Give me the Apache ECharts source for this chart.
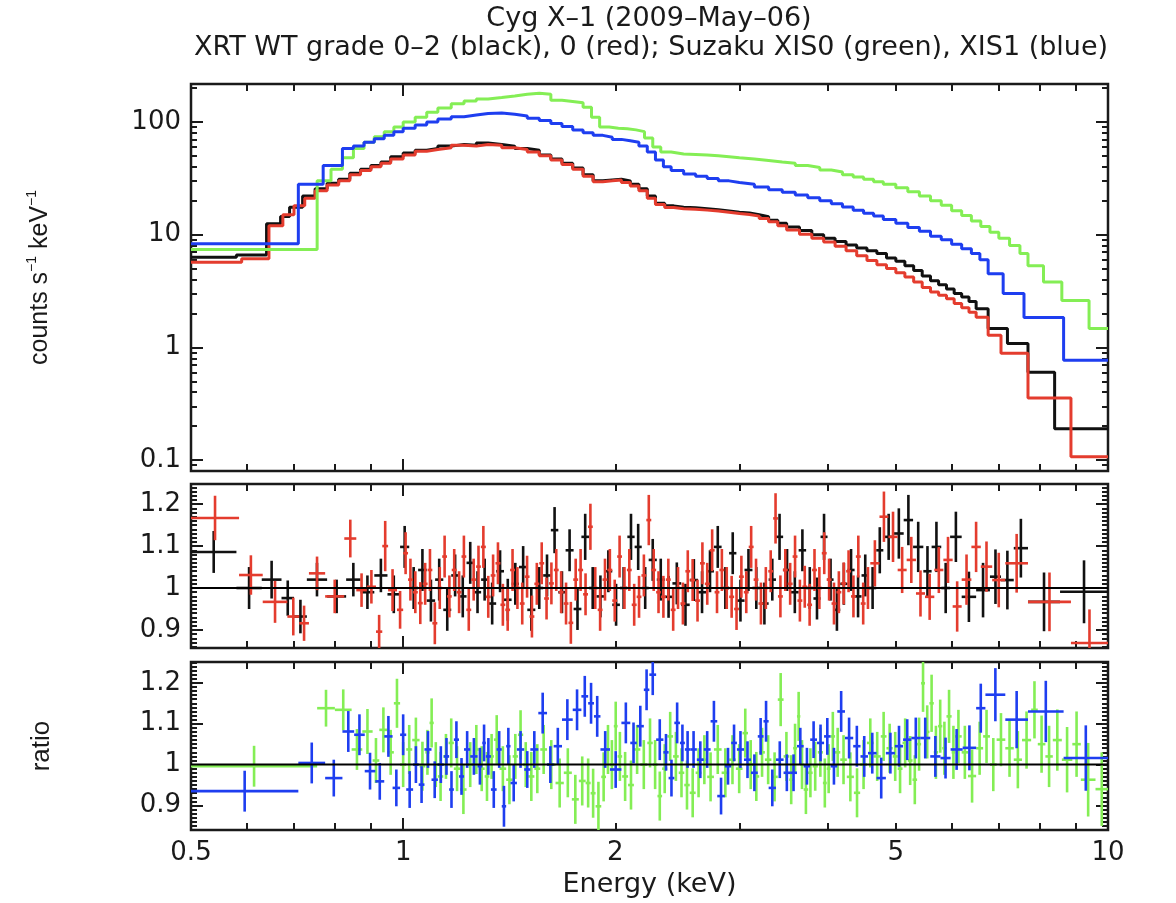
<!DOCTYPE html>
<html>
<head>
<meta charset="utf-8">
<script src="https://cdn.jsdelivr.net/npm/echarts@6/dist/echarts.min.js"></script>
<style>html,body{margin:0;padding:0;background:#fff}#c{width:1176px;height:903px}</style>
</head>
<body>
<div id="c"></div>
<script>
// ---------------- text ----------------
const title1 = 'Cyg X–1 (2009–May–06)';
const title2 = 'XRT WT grade 0–2 (black), 0 (red); Suzaku XIS0 (green), XIS1 (blue)';
const xName = 'Energy (keV)';

// ---------------- ticks ----------------
const xTickLabels = [0.5, 1, 2, 5, 10];
const xMajorTicks = [1];
const xMinorTicks = [0.6, 0.7, 0.8, 0.9, 2, 3, 4, 5, 6, 7, 8, 9];
const yCountLabels = [0.1, 1, 10, 100];
const yCountMinor = [0.09, 0.2, 0.3, 0.4, 0.5, 0.6, 0.7, 0.8, 0.9, 2, 3, 4, 5, 6, 7, 8, 9, 20, 30, 40, 50, 60, 70, 80, 90, 200];
const ratioLabels = [0.9, 1, 1.1, 1.2];
const countRange = [0.08, 217];
const ratioRangeMid = [0.857, 1.248];
const ratioRangeBot = [0.84, 1.251];
const refLine = [[0.5, 1], [10, 1]];

// ---------------- spectra: [bin left edge keV, counts/s/keV]; last entry = right edge ----------------
const xrt02Bins = [[0.5,6.3],[0.58,6.6],[0.64,12.5],[0.67,14.5],[0.69,17.5],[0.72,22],[0.75,25.5],[0.78,28.5],[0.81,31],[0.84,35],[0.87,38],[0.90,41],[0.93,44],[0.96,49],[1.0,53],[1.04,56],[1.08,58],[1.12,61],[1.17,63],[1.22,62],[1.27,65],[1.32,63],[1.38,61],[1.44,58],[1.5,56],[1.56,51],[1.62,47],[1.68,43],[1.74,39],[1.8,34],[1.86,30],[1.92,30.5],[1.98,31],[2.04,30],[2.1,28],[2.16,25.5],[2.22,22],[2.28,19],[2.35,18],[2.42,17.5],[2.5,17.3],[2.6,17],[2.7,16.6],[2.8,16.2],[2.9,15.8],[3.0,15.6],[3.1,15.0],[3.2,14.4],[3.3,13.4],[3.4,12.6],[3.5,11.7],[3.65,10.9],[3.8,10.0],[3.95,9.3],[4.1,8.7],[4.25,8.1],[4.4,7.6],[4.55,7.2],[4.7,6.8],[4.85,6.2],[5.0,5.8],[5.15,5.3],[5.3,4.8],[5.45,4.3],[5.6,3.9],[5.75,3.6],[5.9,3.3],[6.05,3.0],[6.2,2.8],[6.35,2.55],[6.5,2.2],[6.76,1.47],[7.2,1.08],[7.7,0.6],[8.4,0.19],[10,0.19]];
const xrt0Bins = [[0.5,5.7],[0.59,6.1],[0.645,12],[0.675,15],[0.70,18],[0.725,21],[0.75,24.5],[0.78,27.5],[0.81,30],[0.84,34],[0.87,37],[0.90,40],[0.93,43],[0.96,47],[1.0,51],[1.04,55],[1.08,57],[1.12,59],[1.17,62],[1.22,61],[1.27,63],[1.32,62],[1.38,59],[1.44,57],[1.5,54],[1.56,50],[1.62,46],[1.68,42],[1.74,38],[1.8,33],[1.86,29.5],[1.92,30],[1.98,30.5],[2.04,29],[2.1,27],[2.16,24.5],[2.22,21],[2.28,18.5],[2.35,17.4],[2.42,17],[2.5,16.8],[2.6,16.5],[2.7,16.2],[2.8,15.8],[2.9,15.4],[3.0,15.1],[3.1,14.6],[3.2,13.9],[3.3,13.0],[3.4,12.0],[3.5,11.0],[3.65,10.1],[3.8,9.3],[3.95,8.6],[4.1,7.9],[4.25,7.2],[4.4,6.5],[4.55,5.9],[4.7,5.4],[4.85,5.0],[5.0,4.6],[5.15,4.2],[5.3,3.8],[5.45,3.4],[5.6,3.1],[5.75,2.9],[5.9,2.7],[6.05,2.45],[6.2,2.25],[6.35,2.05],[6.5,1.85],[6.76,1.28],[7.05,0.885],[7.7,0.355],[8.86,0.107],[10,0.107]];
const xis1Bins = [[0.5,8.3],[0.71,28],[0.77,41],[0.82,58],[0.85,61],[0.88,66],[0.91,71],[0.94,76],[0.97,82],[1.0,88],[1.04,94],[1.08,100],[1.12,106],[1.17,111],[1.22,115],[1.27,119],[1.32,120],[1.38,117],[1.44,113],[1.5,108],[1.56,103],[1.62,97],[1.68,91],[1.74,85],[1.8,80],[1.86,76],[1.92,73],[1.98,70],[2.04,68],[2.1,66],[2.16,61],[2.22,54],[2.28,46],[2.34,40],[2.4,37],[2.5,34.5],[2.6,33],[2.7,31.5],[2.8,30],[2.9,29],[3.0,28],[3.15,26.5],[3.3,25],[3.45,23.8],[3.6,22.5],[3.75,21.2],[3.9,20],[4.05,18.8],[4.2,17.6],[4.35,16.5],[4.5,15.5],[4.65,14.6],[4.8,13.6],[5.0,12.6],[5.2,11.6],[5.4,10.7],[5.6,9.7],[5.8,9.0],[6.0,8.2],[6.2,7.5],[6.4,6.8],[6.58,6.0],[6.76,4.5],[7.1,3.0],[7.6,1.84],[8.65,0.77],[10,0.77]];
const xis0Bins = [[0.5,7.4],[0.755,30],[0.79,38],[0.82,48],[0.85,58],[0.88,66],[0.91,74],[0.94,82],[0.97,90],[1.0,100],[1.04,110],[1.08,122],[1.12,133],[1.17,145],[1.22,153],[1.27,160],[1.32,165],[1.38,170],[1.44,176],[1.5,180],[1.56,176],[1.62,156],[1.68,152],[1.74,148],[1.8,135],[1.85,110],[1.9,90],[1.96,88],[2.02,87],[2.08,85],[2.14,82],[2.2,72],[2.26,60],[2.32,54],[2.4,52],[2.5,51.5],[2.6,51],[2.7,50],[2.8,49],[2.9,48],[3.0,47],[3.15,45.5],[3.3,44],[3.45,43],[3.6,41],[3.75,39.5],[3.9,37.5],[4.05,36],[4.2,34],[4.35,32.5],[4.5,31],[4.65,29.5],[4.8,28],[5.0,26],[5.2,24],[5.4,22],[5.6,20],[5.8,18.2],[6.0,16.3],[6.2,14.8],[6.4,13.2],[6.6,11.8],[6.8,10.5],[7.0,9.3],[7.25,8.0],[7.5,6.8],[7.7,5.3],[8.1,3.8],[8.6,2.6],[9.4,1.47],[10,1.47]];

// ---------------- ratios: [bin left edge keV, ratio, error]; last entry = right edge ----------------
const xrt02Ratio = [[0.5,1.086,0.05],[0.58,1.0,0.05],[0.63,1.02,0.045],[0.672,0.976,0.042],[0.70,0.932,0.04],[0.73,1.02,0.04],[0.78,0.98,0.04],[0.83,1.02,0.04],[0.87,0.99,0.04],[0.91,1.03,0.04],[0.95,0.985,0.045],[0.99,1.098,0.05],[1.02,1.0,0.05],[1.05,1.043,0.05],[1.08,0.97,0.05],[1.11,1.02,0.05],[1.14,0.948,0.05],[1.17,1.03,0.05],[1.2,0.98,0.05],[1.23,1.06,0.05],[1.26,0.99,0.05],[1.29,1.02,0.05],[1.32,0.963,0.05],[1.355,1.04,0.05],[1.39,0.972,0.05],[1.425,1.01,0.05],[1.46,1.05,0.05],[1.5,0.948,0.05],[1.54,1.0,0.05],[1.58,1.03,0.05],[1.62,1.138,0.055],[1.66,0.99,0.05],[1.7,1.09,0.05],[1.745,0.95,0.05],[1.79,1.122,0.055],[1.835,1.0,0.05],[1.88,0.98,0.05],[1.93,1.04,0.05],[1.98,0.96,0.05],[2.03,1.0,0.05],[2.08,1.122,0.055],[2.13,1.098,0.055],[2.18,1.0,0.05],[2.23,1.067,0.05],[2.29,1.02,0.05],[2.35,0.979,0.05],[2.41,1.011,0.05],[2.48,0.96,0.05],[2.55,1.019,0.05],[2.62,0.99,0.05],[2.69,1.04,0.05],[2.76,1.098,0.05],[2.83,1.0,0.05],[2.9,1.083,0.05],[2.97,0.97,0.05],[3.05,1.043,0.05],[3.13,1.0,0.05],[3.21,0.963,0.05],[3.3,1.02,0.05],[3.38,1.122,0.055],[3.46,1.043,0.05],[3.55,0.99,0.05],[3.64,1.09,0.05],[3.73,1.0,0.05],[3.82,0.975,0.05],[3.91,1.122,0.055],[4.0,1.02,0.05],[4.08,0.948,0.05],[4.17,1.01,0.05],[4.27,1.043,0.05],[4.37,0.98,0.05],[4.47,1.03,0.05],[4.58,1.0,0.05],[4.69,1.09,0.055],[4.8,1.122,0.055],[4.97,1.13,0.06],[5.13,1.162,0.06],[5.29,1.098,0.06],[5.47,1.04,0.06],[5.62,1.098,0.06],[5.8,1.0,0.06],[5.97,1.122,0.06],[6.2,0.979,0.06],[6.5,0.995,0.065],[6.8,1.027,0.065],[7.05,1.019,0.07],[7.35,1.095,0.07],[7.7,0.967,0.07],[8.55,0.991,0.075],[10]];
const xrt0Ratio = [[0.5,1.167,0.053],[0.585,1.031,0.047],[0.632,0.967,0.05],[0.685,0.932,0.045],[0.712,0.916,0.042],[0.735,1.035,0.04],[0.775,0.98,0.04],[0.825,1.118,0.045],[0.858,0.995,0.04],[0.888,1.003,0.04],[0.915,0.896,0.04],[0.934,1.10,0.06],[0.952,0.995,0.05],[0.98,0.948,0.045],[1.0,1.083,0.05],[1.016,1.02,0.05],[1.032,0.99,0.05],[1.049,0.964,0.05],[1.066,1.01,0.05],[1.083,1.043,0.05],[1.1,0.916,0.05],[1.118,1.0,0.05],[1.136,1.075,0.05],[1.154,0.98,0.05],[1.172,1.043,0.05],[1.191,0.99,0.05],[1.21,1.075,0.05],[1.229,0.948,0.05],[1.249,1.02,0.05],[1.269,1.051,0.05],[1.289,1.098,0.05],[1.31,0.979,0.05],[1.331,1.03,0.05],[1.352,1.059,0.05],[1.374,0.96,0.05],[1.396,0.948,0.05],[1.418,1.043,0.05],[1.441,1.0,0.05],[1.464,0.963,0.05],[1.487,1.027,0.05],[1.511,0.932,0.05],[1.535,1.01,0.05],[1.56,1.059,0.05],[1.585,0.975,0.05],[1.61,1.011,0.05],[1.636,1.043,0.05],[1.662,0.99,0.05],[1.689,0.963,0.05],[1.716,0.917,0.05],[1.743,1.02,0.05],[1.771,1.043,0.05],[1.8,0.985,0.05],[1.829,1.146,0.055],[1.858,1.0,0.05],[1.888,0.948,0.05],[1.918,1.02,0.05],[1.949,1.043,0.05],[1.98,0.97,0.05],[2.012,1.075,0.05],[2.044,1.0,0.05],[2.077,1.043,0.05],[2.11,0.96,0.05],[2.144,0.979,0.05],[2.178,1.03,0.05],[2.213,1.162,0.06],[2.249,1.043,0.05],[2.285,0.99,0.05],[2.321,0.979,0.05],[2.359,1.02,0.05],[2.397,0.948,0.05],[2.435,1.0,0.05],[2.474,0.963,0.05],[2.514,1.04,0.05],[2.554,1.019,0.05],[2.595,0.97,0.05],[2.637,1.059,0.05],[2.679,1.01,0.05],[2.722,1.09,0.05],[2.766,0.99,0.05],[2.81,1.043,0.05],[2.855,1.0,0.05],[2.901,0.979,0.05],[2.948,0.95,0.05],[2.995,1.027,0.05],[3.043,0.99,0.05],[3.092,1.098,0.05],[3.142,1.02,0.05],[3.192,0.963,0.05],[3.244,1.0,0.05],[3.296,1.04,0.05],[3.349,1.166,0.06],[3.402,0.98,0.05],[3.457,1.043,0.05],[3.512,1.01,0.05],[3.569,1.075,0.05],[3.626,0.97,0.05],[3.684,1.003,0.05],[3.743,0.96,0.05],[3.803,1.043,0.05],[3.864,1.0,0.05],[3.926,1.083,0.05],[3.989,1.02,0.05],[4.053,0.963,0.05],[4.118,0.99,0.05],[4.184,1.011,0.05],[4.251,1.04,0.05],[4.319,0.98,0.05],[4.388,1.075,0.05],[4.459,0.963,0.05],[4.53,1.0,0.05],[4.6,1.059,0.055],[4.74,1.17,0.06],[4.88,1.122,0.06],[5.03,1.043,0.055],[5.18,1.067,0.055],[5.34,0.987,0.055],[5.5,0.979,0.055],[5.67,1.043,0.055],[5.84,1.067,0.055],[6.02,0.956,0.06],[6.2,1.02,0.06],[6.4,1.098,0.06],[6.6,1.051,0.06],[6.85,1.019,0.065],[7.15,1.059,0.07],[7.7,0.967,0.07],[8.86,0.869,0.08],[10]];
const xis0Ratio = [[0.5,0.996,0.05],[0.755,1.138,0.045],[0.80,1.134,0.05],[0.845,1.037,0.05],[0.875,1.081,0.055],[0.905,1.01,0.055],[0.925,1.085,0.055],[0.95,1.03,0.055],[0.97,1.150,0.06],[0.99,1.0,0.055],[1.01,1.037,0.06],[1.03,1.06,0.055],[1.055,0.996,0.06],[1.075,1.03,0.055],[1.09,1.102,0.06],[1.105,1.0,0.055],[1.12,0.971,0.06],[1.14,1.02,0.055],[1.16,1.053,0.06],[1.18,0.99,0.055],[1.205,0.939,0.06],[1.23,1.0,0.055],[1.26,1.037,0.06],[1.28,0.99,0.055],[1.305,0.971,0.06],[1.325,1.02,0.055],[1.345,1.061,0.06],[1.37,0.99,0.055],[1.4,0.963,0.06],[1.43,1.02,0.055],[1.455,1.073,0.06],[1.48,1.0,0.055],[1.505,0.971,0.06],[1.535,0.99,0.06],[1.565,1.037,0.06],[1.6,1.0,0.06],[1.645,0.955,0.06],[1.69,0.98,0.06],[1.735,0.915,0.06],[1.775,0.96,0.06],[1.815,0.955,0.06],[1.845,0.93,0.06],[1.875,0.898,0.06],[1.91,0.97,0.06],[1.94,1.037,0.06],[1.965,1.0,0.06],[1.99,1.094,0.06],[2.015,1.02,0.06],[2.045,0.971,0.06],[2.085,0.95,0.06],[2.125,1.037,0.06],[2.17,1.0,0.06],[2.22,1.053,0.06],[2.26,1.0,0.06],[2.295,0.923,0.06],[2.33,0.99,0.06],[2.37,1.069,0.06],[2.415,1.02,0.06],[2.46,0.98,0.06],[2.505,0.95,0.06],[2.55,0.931,0.06],[2.6,0.98,0.06],[2.65,1.012,0.06],[2.7,0.97,0.06],[2.76,1.037,0.06],[2.83,0.98,0.06],[2.9,1.012,0.06],[2.965,0.99,0.06],[3.03,1.077,0.06],[3.085,1.0,0.06],[3.14,0.971,0.06],[3.2,1.03,0.06],[3.26,1.012,0.06],[3.33,0.97,0.06],[3.4,1.159,0.065],[3.465,1.02,0.06],[3.53,0.963,0.06],[3.575,1.04,0.06],[3.62,1.118,0.06],[3.66,1.0,0.06],[3.7,0.939,0.06],[3.755,0.98,0.06],[3.81,0.996,0.06],[3.875,1.03,0.06],[3.94,0.955,0.06],[3.99,0.99,0.06],[4.04,1.069,0.06],[4.1,1.03,0.06],[4.17,1.012,0.06],[4.26,0.97,0.06],[4.36,0.931,0.06],[4.45,1.0,0.06],[4.55,1.053,0.06],[4.65,1.02,0.06],[4.76,1.069,0.06],[4.85,1.04,0.06],[4.95,1.02,0.06],[5.03,0.99,0.06],[5.11,1.053,0.06],[5.2,1.01,0.06],[5.28,0.963,0.06],[5.36,1.05,0.065],[5.43,1.199,0.07],[5.5,1.08,0.065],[5.58,1.150,0.07],[5.66,1.03,0.065],[5.74,1.094,0.065],[5.82,1.04,0.065],[5.9,1.118,0.065],[6.0,1.03,0.065],[6.07,1.069,0.065],[6.2,1.03,0.065],[6.33,0.972,0.065],[6.5,1.04,0.065],[6.65,1.069,0.065],[6.8,1.0,0.065],[6.95,1.061,0.065],[7.15,1.04,0.07],[7.35,1.012,0.07],[7.55,1.06,0.07],[7.78,1.134,0.07],[7.95,1.05,0.07],[8.15,1.020,0.075],[8.35,1.06,0.075],[8.6,1.012,0.08],[8.9,1.05,0.08],[9.15,0.963,0.09],[9.6,0.94,0.09],[10]];
const xis1Ratio = [[0.5,0.935,0.05],[0.71,1.004,0.05],[0.775,0.967,0.045],[0.82,1.081,0.05],[0.852,1.073,0.05],[0.882,0.984,0.045],[0.913,0.959,0.045],[0.94,1.069,0.05],[0.966,0.943,0.045],[0.99,1.073,0.05],[1.01,0.939,0.045],[1.033,1.0,0.045],[1.052,0.951,0.045],[1.072,1.037,0.045],[1.097,0.963,0.045],[1.12,1.0,0.045],[1.142,1.02,0.045],[1.162,0.939,0.045],[1.18,1.061,0.045],[1.2,0.971,0.045],[1.22,1.037,0.045],[1.245,1.02,0.045],[1.275,0.996,0.045],[1.295,1.053,0.045],[1.31,1.02,0.045],[1.332,0.939,0.045],[1.357,1.037,0.045],[1.38,0.898,0.05],[1.4,1.045,0.045],[1.42,0.955,0.045],[1.45,1.037,0.045],[1.485,0.988,0.045],[1.515,1.037,0.045],[1.555,1.126,0.05],[1.6,1.0,0.045],[1.635,1.045,0.045],[1.68,1.110,0.05],[1.74,1.134,0.05],[1.79,1.167,0.05],[1.83,1.150,0.05],[1.865,1.118,0.05],[1.905,1.037,0.045],[1.965,0.988,0.045],[2.04,1.102,0.05],[2.1,1.053,0.05],[2.145,1.094,0.05],[2.195,1.183,0.05],[2.235,1.22,0.05],[2.285,1.061,0.05],[2.34,1.03,0.045],[2.38,0.967,0.045],[2.425,1.102,0.05],[2.47,1.053,0.045],[2.51,1.037,0.045],[2.555,1.037,0.045],[2.61,1.012,0.045],[2.67,1.037,0.045],[2.73,1.106,0.05],[2.79,0.923,0.045],[2.86,0.996,0.045],[2.92,1.053,0.045],[2.975,1.037,0.045],[3.045,1.012,0.045],[3.115,0.98,0.045],[3.185,1.069,0.045],[3.245,1.106,0.05],[3.3,0.943,0.045],[3.38,1.012,0.045],[3.465,0.98,0.045],[3.54,0.98,0.045],[3.62,1.045,0.045],[3.7,0.996,0.045],[3.78,1.061,0.045],[3.865,1.053,0.045],[3.955,1.069,0.045],[4.04,0.996,0.045],[4.13,1.130,0.05],[4.235,1.065,0.05],[4.35,1.045,0.05],[4.455,1.02,0.05],[4.565,1.028,0.05],[4.695,0.967,0.05],[4.84,1.028,0.05],[4.985,1.045,0.05],[5.12,1.061,0.05],[5.26,1.065,0.05],[5.415,1.065,0.05],[5.595,1.02,0.05],[5.785,1.016,0.05],[5.98,1.037,0.05],[6.22,1.041,0.055],[6.5,1.138,0.06],[6.7,1.171,0.065],[7.15,1.110,0.07],[7.7,1.130,0.075],[8.65,1.016,0.08],[10]];

// ---------------- styling ----------------
const COL = { xrt02: '#111111', xrt0: '#e43c2e', xis0: '#84ee55', xis1: '#1e3ef0' };
const FONT = 'DejaVu Sans';
const NAMEFONT = 'Liberation Sans';
const INK = '#1a1a1a';

const grids = [
  { left: 191, right: 68, top: 84, height: 387 },
  { left: 191, right: 68, top: 484, height: 164 },
  { left: 191, right: 68, top: 662, height: 168 }
].map(g => Object.assign(g, { show: true, borderColor: INK, borderWidth: 2.5, backgroundColor: 'transparent' }));

function tickStyle(len, vals) {
  return { show: true, inside: true, length: len, customValues: vals, lineStyle: { color: INK, width: 2 } };
}

// x axes: per grid -> [bottom major, bottom minor, top major, top minor]
const xAxes = [];
for (let g = 0; g < 3; g++) {
  ['bottom', 'top'].forEach(pos => {
    [[xMajorTicks, 12], [xMinorTicks, 7]].forEach(([vals, len], k) => {
      const labelled = (g === 2 && pos === 'bottom' && k === 0);
      xAxes.push({
        type: 'log', logBase: 10, min: 0.5, max: 10, gridIndex: g, position: pos,
        axisLine: { show: false }, splitLine: { show: false },
        axisTick: tickStyle(len, vals),
        axisLabel: { show: labelled, customValues: xTickLabels, fontFamily: FONT, fontSize: 26, color: INK, margin: 10,
                     formatter: v => String(+v.toPrecision(3)) },
        name: labelled ? xName : '', nameLocation: 'middle', nameGap: 41,
        nameTextStyle: { fontFamily: FONT, fontSize: 27, color: INK, verticalAlign: 'top' }
      });
    });
  });
}

// y axes: per grid -> [left major, left minor, right major, right minor]
const minorRatio = [];
for (let i = 85; i <= 125; i++) minorRatio.push(i / 100);
const yAxes = [];
for (let g = 0; g < 3; g++) {
  ['left', 'right'].forEach(pos => {
    [0, 1].forEach(k => {
      const isLog = g === 0;
      const labelled = pos === 'left' && k === 0;
      const range = g === 0 ? countRange : (g === 1 ? ratioRangeMid : ratioRangeBot);
      const ax = {
        type: isLog ? 'log' : 'value', min: range[0], max: range[1], gridIndex: g, position: pos,
        axisLine: { show: false }, splitLine: { show: false },
        axisTick: k === 0 ? tickStyle(12, isLog ? yCountLabels : ratioLabels) : tickStyle(6, isLog ? yCountMinor : minorRatio),
        axisLabel: { show: labelled, customValues: isLog ? yCountLabels : ratioLabels, fontFamily: FONT, fontSize: 26, color: INK, margin: 10,
                     formatter: v => String(+(+v).toPrecision(3)) }
      };
      if (labelled && g === 0) {
        ax.name = '{n|counts s}{s|−1}{n| keV}{s|−1}';
        ax.nameLocation = 'middle'; ax.nameGap = 136; ax.nameRotate = 90;
        ax.nameTextStyle = { rich: { n: { fontFamily: NAMEFONT, fontSize: 25, color: INK, lineHeight: 30 },
                                     s: { fontFamily: NAMEFONT, fontSize: 14, color: INK, verticalAlign: 'top', lineHeight: 30 } } };
      }
      if (labelled && g === 2) {
        ax.name = 'ratio'; ax.nameLocation = 'middle'; ax.nameGap = 136; ax.nameRotate = 90;
        ax.nameTextStyle = { fontFamily: NAMEFONT, fontSize: 26, color: INK };
      }
      yAxes.push(ax);
    });
  });
}

// ---------------- series ----------------
function stepSeries(bins, color, g) {
  return { type: 'line', xAxisIndex: 4 * g, yAxisIndex: 4 * g, data: bins.map(b => [b[0], b[1]]), step: 'end',
           symbol: 'none', clip: true, lineStyle: { color: color, width: 3 }, silent: true };
}
function crossSeries(pts, color, g) {
  const data = [];
  for (let i = 0; i < pts.length - 1; i++) data.push([pts[i][0], pts[i + 1][0], pts[i][1], pts[i][2]]);
  return {
    type: 'custom', xAxisIndex: 4 * g, yAxisIndex: 4 * g, data: data, clip: true, silent: true,
    encode: { x: [0, 1], y: 2 },
    renderItem: function (params, api) {
      const lo = api.value(0), hi = api.value(1), r = api.value(2), e = api.value(3);
      const xc = Math.sqrt(lo * hi);
      const a = api.coord([lo, r]), b = api.coord([hi, r]), c = api.coord([xc, r - e]), d = api.coord([xc, r + e]);
      return { type: 'group', children: [
        { type: 'line', shape: { x1: a[0], y1: a[1], x2: b[0], y2: b[1] }, style: { stroke: color, lineWidth: 2.6 } },
        { type: 'line', shape: { x1: c[0], y1: c[1], x2: d[0], y2: d[1] }, style: { stroke: color, lineWidth: 2.6 } }
      ] };
    }
  };
}
function refSeries(g) {
  return { type: 'line', xAxisIndex: 4 * g, yAxisIndex: 4 * g, data: refLine, symbol: 'none', silent: true,
           lineStyle: { color: '#000', width: 2 }, z: 5 };
}

const series = [
  stepSeries(xrt02Bins, COL.xrt02, 0),
  stepSeries(xrt0Bins, COL.xrt0, 0),
  stepSeries(xis0Bins, COL.xis0, 0),
  stepSeries(xis1Bins, COL.xis1, 0),
  crossSeries(xrt02Ratio, COL.xrt02, 1),
  crossSeries(xrt0Ratio, COL.xrt0, 1),
  refSeries(1),
  crossSeries(xis0Ratio, COL.xis0, 2),
  crossSeries(xis1Ratio, COL.xis1, 2),
  refSeries(2)
];

const chart = echarts.init(document.getElementById('c'), null, { renderer: 'canvas' });
chart.setOption({
  animation: false,
  backgroundColor: '#fff',
  grid: grids,
  xAxis: xAxes,
  yAxis: yAxes,
  graphic: [
    { type: 'text', x: 649, y: 19, style: { text: title1, fontFamily: FONT, fontSize: 27, fill: INK, align: 'center', verticalAlign: 'middle' } },
    { type: 'text', x: 651, y: 48, style: { text: title2, fontFamily: FONT, fontSize: 27, fill: INK, align: 'center', verticalAlign: 'middle' } }
  ],
  series: series
});
</script>
</body>
</html>
